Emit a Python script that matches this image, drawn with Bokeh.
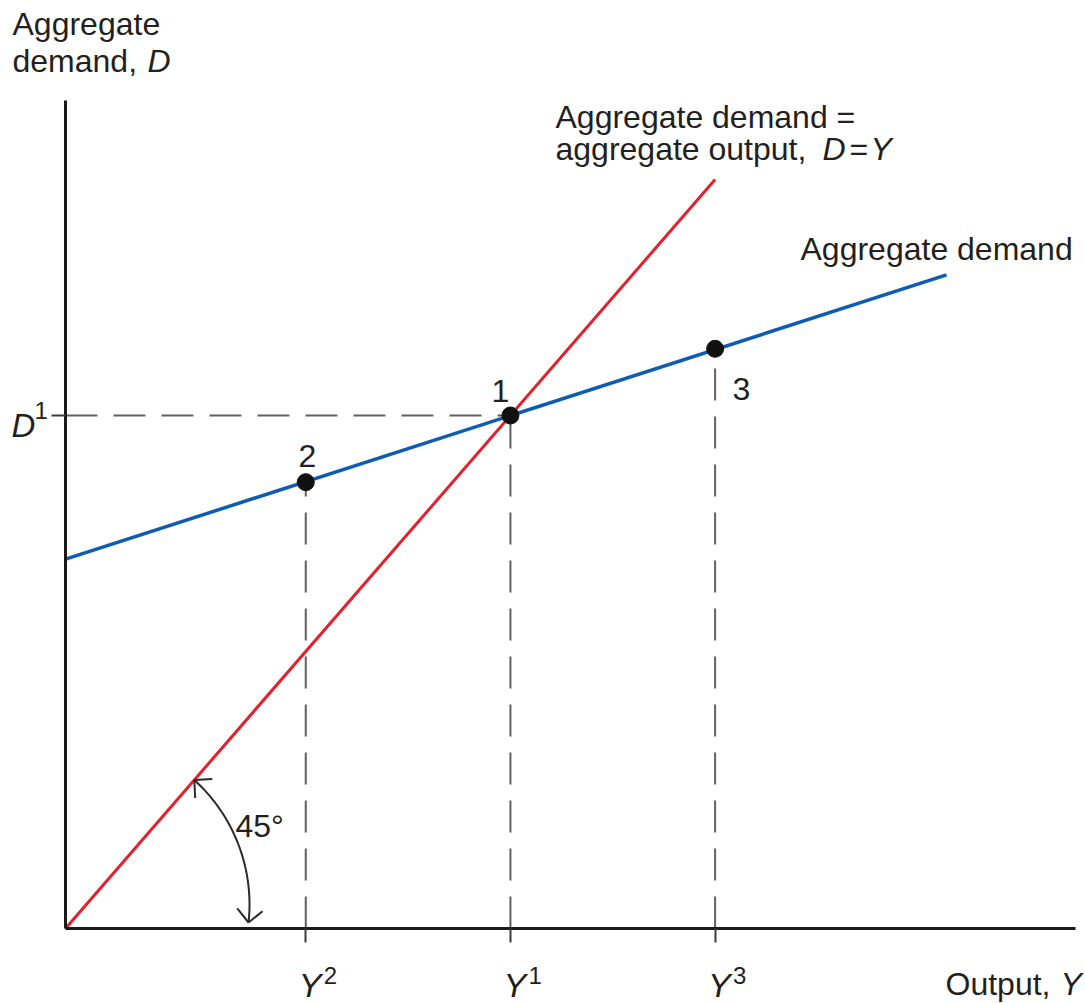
import numpy as np
from bokeh.plotting import figure
from bokeh.models import Range1d, FixedTicker, Label
from bokeh.embed import file_html
from bokeh.resources import INLINE

# ---------------- data ----------------
# 45-degree line: aggregate demand = aggregate output (D = Y)
RED_X = [0, 146]
RED_Y = [0, 146]
# aggregate demand line
AD_X = [0, 198]
AD_Y = [72, 127.4]
# marked points 1, 2, 3
PT_X = [100, 54, 146]
PT_Y = [100, 87, 113]
PT_LABELS = ["1", "2", "3"]
# tick positions / labels
Y_TICKS = [54, 100, 146]
Y_TICK_SUP = ["2", "1", "3"]
D_TICKS = [100]
D_TICK_SUP = ["1"]
X_MAX = 227
Y_MAX = 161.4

# ---------------- layout ----------------
W, H = 1085, 1003
OX, OY = 65, 928            # canvas pixel of the origin
SX = (1075 - OX) / X_MAX    # pixels per x unit
SY = (OY - 100) / Y_MAX     # pixels per y unit

def dx(px):  # canvas pixel -> data x
    return (px - OX) / SX

def dy(py):  # canvas pixel -> data y
    return (OY - py) / SY

p = figure(width=W, height=H,
           x_range=Range1d(dx(0), dx(W)), y_range=Range1d(dy(H), dy(0)),
           output_backend="svg", toolbar_location=None,
           min_border_left=0, min_border_right=0, min_border_top=0, min_border_bottom=0)
p.outline_line_color = None
p.xgrid.visible = False
p.ygrid.visible = False
p.background_fill_color = "white"
p.border_fill_color = "white"

p.xaxis.ticker = FixedTicker(ticks=Y_TICKS)
p.yaxis.ticker = FixedTicker(ticks=D_TICKS)
p.xaxis.bounds = (0, X_MAX)
p.yaxis.bounds = (0, Y_MAX)
p.xaxis.major_label_overrides = {t: "" for t in Y_TICKS}
p.yaxis.major_label_overrides = {t: "" for t in D_TICKS}
for ax in (p.xaxis[0], p.yaxis[0]):
    ax.fixed_location = 0
    ax.major_tick_out = 14
    ax.major_tick_in = 0
    ax.minor_tick_out = 0
    ax.minor_tick_in = 0
    ax.major_tick_line_width = 2
    ax.major_tick_line_color = "#3a3a3a"
    ax.axis_line_width = 3
    ax.axis_line_color = "#1a1a1a"

DASH = dict(line_dash="32 16", line_width=2, line_color="#606060")
# horizontal dashed line from the D axis to point 1
p.segment(x0=[0], y0=[PT_Y[0]], x1=[PT_X[0]], y1=[PT_Y[0]], **DASH)
# vertical dashed lines from the output axis to each point
p.segment(x0=PT_X, y0=[0] * len(PT_X), x1=PT_X, y1=PT_Y, **DASH)

p.line(RED_X, RED_Y, line_color="#e3202b", line_width=3)
p.line(AD_X, AD_Y, line_color="#0d5cb1", line_width=3.5)
p.scatter(PT_X, PT_Y, size=17, fill_color="#111111", line_color="#111111")

# ---------------- 45 degree arc with arrows (screen-space geometry) ----------------
cx_px, cy_px, r_px = 16.0, 24.0, 168.0
u = np.array([RED_X[1] * SX, RED_Y[1] * SY])
u = u / np.linalg.norm(u)
c = np.array([cx_px, cy_px])
uc = u @ c
t = uc + np.sqrt(uc ** 2 - (c @ c - r_px ** 2))
top = t * u - c
th1 = np.arctan2(top[1], top[0])
th0 = np.arcsin((6 - cy_px) / r_px)
th = np.linspace(th0, th1, 60)
arc_x = (cx_px + r_px * np.cos(th)) / SX
arc_y = (cy_px + r_px * np.sin(th)) / SY
p.line(arc_x, arc_y, line_color="#2a2a2a", line_width=2)

def head(theta, direction):
    tip = np.array([cx_px + r_px * np.cos(theta), cy_px + r_px * np.sin(theta)])
    d = direction * np.array([-np.sin(theta), np.cos(theta)])
    b = -d
    arms = []
    for a in (np.pi / 4, -np.pi / 4):
        rot = np.array([[np.cos(a), -np.sin(a)], [np.sin(a), np.cos(a)]])
        arms.append(tip + 18 * (rot @ b))
    return tip, arms

hx0, hy0, hx1, hy1 = [], [], [], []
for theta, direction in ((th1, 1), (th0, -1)):
    tip, arms = head(theta, direction)
    for a in arms:
        hx0.append(tip[0] / SX); hy0.append(tip[1] / SY)
        hx1.append(a[0] / SX); hy1.append(a[1] / SY)
p.segment(x0=hx0, y0=hy0, x1=hx1, y1=hy1, line_color="#2a2a2a", line_width=2)

# ---------------- labels ----------------
FONT = "Liberation Sans"
TXT = "#231f20"
BASE_FIX = 0.37  # measured offset of the rendered baseline, in em

def lab(text, px, py, size=32, style="normal", align="left"):
    p.add_layout(Label(x=dx(px), y=dy(py - BASE_FIX * size), text=text, text_font=FONT,
                       text_font_size=f"{size}px", text_font_style=style,
                       text_color=TXT, text_align=align, text_baseline="alphabetic"))

lab("Aggregate", 12, 35)
lab("demand, ", 12, 72)
lab("D", 147, 72, style="italic")

lab("Aggregate demand =", 555, 128)
lab("aggregate output, ", 555, 160)
lab("D", 822, 160, style="italic")
lab("=", 849, 160)
lab("Y", 870, 160, style="italic")

lab("Aggregate demand", 800, 260)

lab(PT_LABELS[0], 500, 402, align="center")
lab(PT_LABELS[1], 307, 467, align="center")
lab(PT_LABELS[2], 741, 400, align="center")

lab("45°", 235, 837)

# D1 on the vertical axis
lab("D", 11, 437, size=33, style="italic")
lab(D_TICK_SUP[0], 34, 419, size=24)

# Y ticks on the horizontal axis
for xv, sup in zip(Y_TICKS, Y_TICK_SUP):
    px = OX + xv * SX
    lab("Y", px - 7, 997, size=34, style="italic")
    lab(sup, px + 18, 984, size=24)

lab("Output, ", 945, 995)
lab("Y", 1060, 995, style="italic")

open("out.html", "w").write(file_html(p, INLINE))
